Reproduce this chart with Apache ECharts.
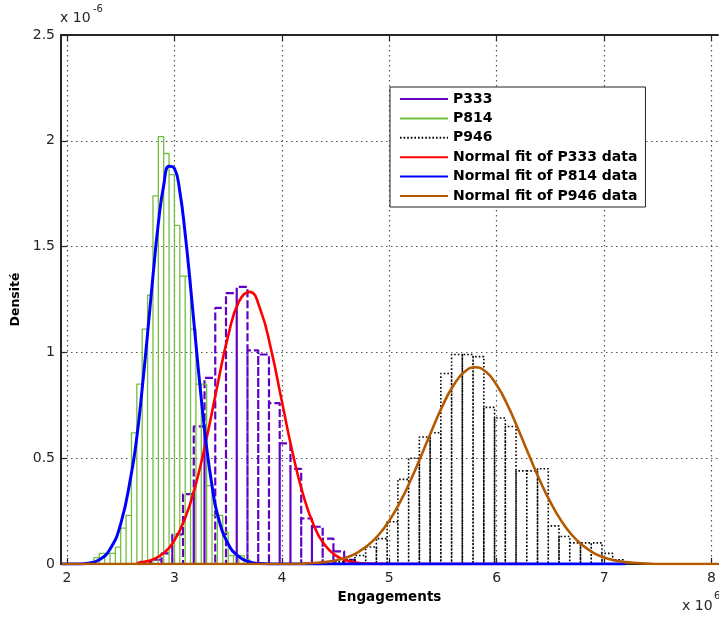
<!DOCTYPE html>
<html><head><meta charset="utf-8">
<script src="https://cdn.jsdelivr.net/npm/echarts@6/dist/echarts.min.js"></script>
<style>html,body{margin:0;padding:0;background:#fff}#c{width:719px;height:621px}</style>
</head><body><div id="c"></div>
<script>
// ---- data (x in units of 1e6 engagements, density in units of 1e-6) ----
const xTicks = [2, 3, 4, 5, 6, 7, 8];
const yTicks = [0, 0.5, 1, 1.5, 2, 2.5];

const p333BinStart = 2.68, p333BinWidth = 0.1;
const p333Density = [0.01,0.02,0.05,0.14,0.33,0.65,0.88,1.21,1.28,1.31,1.01,0.99,0.76,0.57,0.45,0.215,0.176,0.12,0.06,0.02];

const p814BinStart = 2.25, p814BinWidth = 0.05;
const p814Density = [0.03,0.05,0.05,0.05,0.08,0.17,0.23,0.62,0.85,1.11,1.27,1.74,2.02,1.94,1.84,1.60,1.36,1.36,1.11,0.85,0.85,0.37,0.23,0.23,0.15,0.04,0.04,0.04,0.02];

const p946BinStart = 4.48, p946BinWidth = 0.1;
const p946Density = [0.01,0.02,0.04,0.08,0.12,0.20,0.40,0.50,0.60,0.62,0.90,0.99,0.99,0.98,0.74,0.69,0.65,0.44,0.44,0.45,0.18,0.13,0.10,0.10,0.10,0.05,0.02];

const fit333X = [2.65,2.7,2.8,2.9,3.0,3.1,3.2,3.3,3.4,3.5,3.6,3.7,3.8,3.9,4.0,4.1,4.2,4.3,4.4,4.5,4.6,4.7,4.8,4.9,5.0,6.3];
const fit333Y = [0.005,0.008,0.022,0.052,0.112,0.217,0.379,0.596,0.844,1.078,1.240,1.286,1.202,1.013,0.769,0.526,0.324,0.180,0.090,0.041,0.017,0.006,0.002,0.001,0,0];

const fit814X = [1.95,2.1,2.2,2.3,2.4,2.5,2.6,2.65,2.7,2.75,2.8,2.85,2.9,2.95,3.0,3.05,3.1,3.15,3.2,3.25,3.3,3.35,3.4,3.5,3.6,3.7,3.8,3.9,7.2];
const fit814Y = [0,0.0005,0.004,0.02,0.07,0.19,0.43,0.60,0.83,1.09,1.36,1.61,1.79,1.88,1.87,1.76,1.56,1.31,1.04,0.78,0.55,0.37,0.235,0.095,0.035,0.01,0.002,0,0];

const fit946X = [1.95,4.1,4.2,4.3,4.4,4.5,4.6,4.7,4.8,4.9,5.0,5.1,5.2,5.3,5.4,5.5,5.6,5.7,5.8,5.9,6.0,6.1,6.2,6.3,6.4,6.5,6.6,6.7,6.8,6.9,7.0,7.1,7.2,7.3,7.4,7.5,8.06];
const fit946Y = [0,0,0.002,0.005,0.009,0.017,0.031,0.053,0.088,0.137,0.205,0.292,0.397,0.515,0.637,0.752,0.846,0.908,0.930,0.908,0.846,0.752,0.637,0.515,0.397,0.292,0.205,0.137,0.088,0.053,0.031,0.017,0.009,0.005,0.002,0,0];

const seriesNames = ['P333','P814','P946','Normal fit of P333 data','Normal fit of P814 data','Normal fit of P946 data'];

// ---- build outline paths for histograms ----
function histPath(start, width, dens) {
  const pts = [];
  dens.forEach((h, i) => {
    const x0 = start + i * width, x1 = start + (i + 1) * width;
    pts.push([x0, 0], [x0, h], [x1, h], [x1, 0]);
  });
  return pts;
}
const zip = (xs, ys) => xs.map((x, i) => [x, ys[i]]);

const FONT = 'DejaVu Sans';
const axisColor = '#262626';
const chart = echarts.init(document.getElementById('c'), null, {renderer: 'canvas'});

const gridLine = {show: true, lineStyle: {color: '#555', width: 1.2, type: [1.5, 3.5]}};

chart.setOption({
  animation: false,
  backgroundColor: '#fff',
  grid: {left: 61, top: 35, width: 660.5, height: 529, containLabel: false},
  xAxis: [{
    type: 'value', min: 1.944, max: 8.06, position: 'bottom',
    name: 'Engagements', nameLocation: 'middle', nameGap: 26,
    nameTextStyle: {fontFamily: FONT, fontWeight: 'bold', fontSize: 13.5, color: '#000'},
    axisLine: {show: true, onZero: false, lineStyle: {color: axisColor, width: 2}},
    axisTick: {show: true, inside: true, length: 6, customValues: xTicks, lineStyle: {color: axisColor, width: 1.2}},
    axisLabel: {show: true, customValues: xTicks, margin: 7, fontFamily: FONT, fontSize: 14, color: axisColor,
      formatter: v => String(v)},
    splitLine: gridLine
  }, {
    type: 'value', min: 1.944, max: 8.06, position: 'top',
    axisLine: {show: true, onZero: false, lineStyle: {color: axisColor, width: 2}},
    axisTick: {show: true, inside: true, length: 6, customValues: xTicks, lineStyle: {color: axisColor, width: 1.2}},
    axisLabel: {show: false},
    splitLine: {show: false}
  }],
  yAxis: [{
    type: 'value', min: 0, max: 2.5, interval: 0.5,
    name: 'Densité', nameLocation: 'middle', nameGap: 32, nameRotate: 90,
    nameTextStyle: {fontFamily: FONT, fontWeight: 'bold', fontSize: 12.5, color: '#000'},
    axisLine: {show: true, onZero: false, lineStyle: {color: axisColor, width: 2}},
    axisTick: {show: true, inside: true, length: 6, lineStyle: {color: axisColor, width: 1.2}},
    axisLabel: {show: true, margin: 6, fontFamily: FONT, fontSize: 14, color: axisColor,
      formatter: v => (yTicks.indexOf(v) >= 0 ? String(v) : '')},
    splitLine: gridLine
  }],
  legend: {
    orient: 'vertical', left: 390, top: 87,
    itemWidth: 48, itemHeight: 14, itemGap: 5.4,
    padding: [5, 8, 4, 9],
    borderColor: '#222', borderWidth: 1, backgroundColor: '#fff',
    itemStyle: {color: 'rgba(0,0,0,0)', borderWidth: 0, opacity: 0},
    textStyle: {fontFamily: FONT, fontWeight: 'bold', fontSize: 14, color: '#000'},
    data: [
      {name: seriesNames[0], lineStyle: {type: 'solid', width: 2}},
      {name: seriesNames[1]},
      {name: seriesNames[2]},
      {name: seriesNames[3]},
      {name: seriesNames[4]},
      {name: seriesNames[5]}
    ]
  },
  graphic: [
    {type: 'text', left: 60, top: 11, style: {text: 'x 10', fontFamily: FONT, fontSize: 14, fill: axisColor}},
    {type: 'text', left: 93, top: 4, style: {text: '-6', fontFamily: FONT, fontSize: 10, fill: axisColor}},
    {type: 'text', left: 682, top: 599, style: {text: 'x 10', fontFamily: FONT, fontSize: 14, fill: axisColor}},
    {type: 'text', left: 714, top: 591, style: {text: '6', fontFamily: FONT, fontSize: 10, fill: axisColor}}
  ],
  series: [
    {name: seriesNames[0], type: 'line', symbol: 'none', clip: true,
      data: histPath(p333BinStart, p333BinWidth, p333Density),
      lineStyle: {color: '#6200c4', width: 2.2, type: [8, 3]}, itemStyle: {color: '#6200c4'}},
    {name: seriesNames[1], type: 'line', symbol: 'none', clip: true,
      data: histPath(p814BinStart, p814BinWidth, p814Density),
      lineStyle: {color: '#72bf3e', width: 1.3}, itemStyle: {color: '#72bf3e'}},
    {name: seriesNames[2], type: 'line', symbol: 'none', clip: true,
      data: histPath(p946BinStart, p946BinWidth, p946Density),
      lineStyle: {color: '#000', width: 1.6, type: [1.6, 2]}, itemStyle: {color: '#000'}},
    {name: seriesNames[3], type: 'line', symbol: 'none', clip: true, smooth: 0.5,
      data: zip(fit333X, fit333Y),
      lineStyle: {color: '#ff0000', width: 2.6}, itemStyle: {color: '#ff0000'}},
    {name: seriesNames[4], type: 'line', symbol: 'none', clip: true, smooth: 0.5,
      data: zip(fit814X, fit814Y),
      lineStyle: {color: '#0000ff', width: 3}, itemStyle: {color: '#0000ff'}},
    {name: seriesNames[5], type: 'line', symbol: 'none', clip: true, smooth: 0.5,
      data: zip(fit946X, fit946Y),
      lineStyle: {color: '#b35a00', width: 2.6}, itemStyle: {color: '#b35a00'}}
  ]
});
</script></body></html>
